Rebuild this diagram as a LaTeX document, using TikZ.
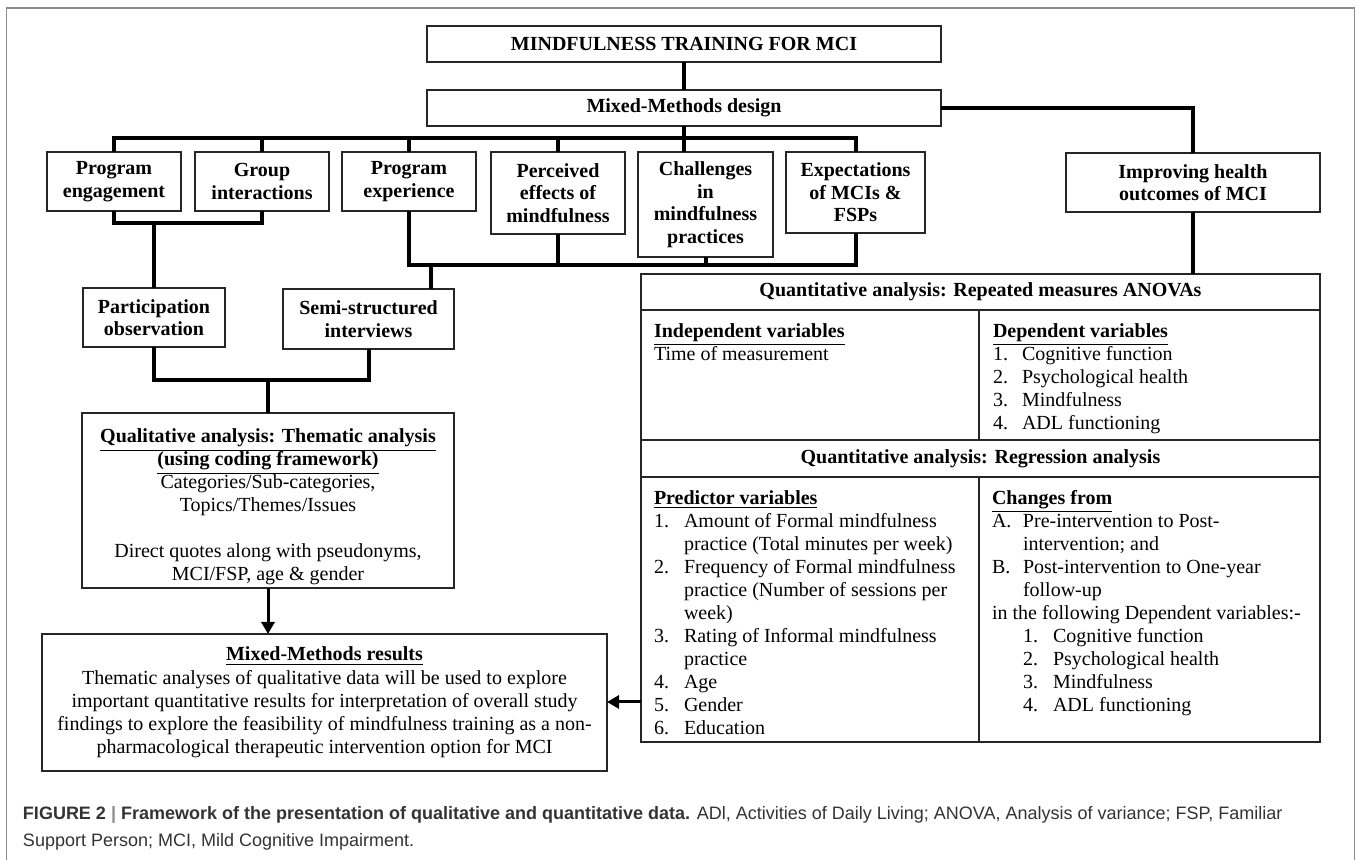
\documentclass[tikz,border=0pt]{standalone}
\usepackage{fontspec}
\setmainfont{Liberation Serif}
\newfontfamily\capfont{Liberation Sans}
\usetikzlibrary{arrows.meta,calc}
% \bx[options]{name}{x1}{y1}{x2}{y2}{text}
\newcommand\bx[7][]{\node[box,#1,minimum width={(#5-#3)*0.5pt},minimum height={(#6-#4)*0.5pt}] (#2) at ({(#3+#5)/2},{(#4+#6)/2}) {#7};}
\begin{document}
\begin{tikzpicture}[x=0.5pt,y=-0.5pt,
  every node/.style={inner sep=0pt,outer sep=0pt},
  box/.style={draw=black!85,line width=0.75pt,align=center,font=\fontsize{10}{11.25}\selectfont\bfseries},
  celltext/.style={anchor=north west,align=left,font=\fontsize{10}{11.5}\selectfont},
  conn/.style={line width=2pt,line join=miter},
  arr/.style={line width=1.5pt,-{Triangle[length=6pt,width=6.5pt]}},
  captxt/.style={anchor=base west,text=black!80,font=\capfont\fontsize{9}{13.5}\selectfont}]
\useasboundingbox (0,0) rectangle (1357,860);
% outer frame
\draw[draw=black!45,line width=0.75pt] (6.5,8) rectangle (1354.5,900);

% helper coordinates
\coordinate (barY) at (0,138);
\coordinate (y1) at (0,223);
\coordinate (busY) at (0,265);
\coordinate (y3) at (0,380);
\coordinate (ssX) at (431,0);
\coordinate (armY) at (0,702);

% top boxes
\bx{t1}{427}{26}{941}{62}{MINDFULNESS TRAINING FOR MCI}
\bx{mm}{427}{90}{941}{126}{Mixed-Methods design}

% row of themes
\bx{pe}{47}{152}{181}{211}{Program\\engagement}
\bx{gi}{195}{152}{329}{211}{Group\\interactions}
\bx{px}{342}{152}{476}{211}{Program\\experience}
\bx{pf}{491}{152}{625}{234}{Perceived\\effects of\\mindfulness}
\bx{ch}{638}{152}{773}{257}{Challenges\\in\\mindfulness\\practices}
\bx{ex}{786}{152}{925}{233}{Expectations\\of MCIs \&\\FSPs}
\bx{im}{1066}{153}{1320}{212}{Improving health\\outcomes of MCI}

% data collection
\bx{po}{83}{288}{225}{347}{Participation\\observation}
\bx{ss}{283}{289}{454}{349}{Semi-structured\\interviews}

% qualitative analysis
\bx[font=\fontsize{10}{11.5}\selectfont]{ql}{82}{413}{454}{588}
 {\rule{0pt}{13.5pt}\textbf{\underline{Qualitative analysis: Thematic analysis}}\\
  \textbf{\underline{(using coding framework)}}\\
  Categories/Sub-categories,\\
  Topics/Themes/Issues\\[11.5pt]
  Direct quotes along with pseudonyms,\\
  MCI/FSP, age \& gender}

% mixed-methods results
\bx[font=\fontsize{10}{11.6}\selectfont]{mx}{42}{634}{607}{771}
 {\textbf{\underline{Mixed-Methods results}}\\
  Thematic analyses of qualitative data will be used to explore\\
  important quantitative results for interpretation of overall study\\
  findings to explore the feasibility of mindfulness training as a non-\\
  pharmacological therapeutic intervention option for MCI}

% quantitative tables
\bx{h1}{641}{274}{1320}{310}{Quantitative analysis: Repeated measures ANOVAs}
\bx{c11}{641}{310}{979}{440}{}
\bx{c12}{979}{310}{1320}{440}{}
\bx{h2}{641}{440}{1320}{477}{Quantitative analysis: Regression analysis}
\bx{c21}{641}{477}{979}{742}{}
\bx{c22}{979}{477}{1320}{742}{}

\node[celltext] (t11) at (654,323.5)
 {\textbf{\underline{Independent variables}}\\Time of measurement};
\node[celltext] (t12) at (993,323.5)
 {\textbf{\underline{Dependent variables}}\\
  \makebox[14.5pt][l]{1.}Cognitive function\\
  \makebox[14.5pt][l]{2.}Psychological health\\
  \makebox[14.5pt][l]{3.}Mindfulness\\
  \makebox[14.5pt][l]{4.}ADL functioning};
\node[celltext] (t21) at (654,490.5)
 {\textbf{\underline{Predictor variables}}\\
  \makebox[15pt][l]{1.}Amount of Formal mindfulness\\
  \hspace*{15pt}practice (Total minutes per week)\\
  \makebox[15pt][l]{2.}Frequency of Formal mindfulness\\
  \hspace*{15pt}practice (Number of sessions per\\
  \hspace*{15pt}week)\\
  \makebox[15pt][l]{3.}Rating of Informal mindfulness\\
  \hspace*{15pt}practice\\
  \makebox[15pt][l]{4.}Age\\
  \makebox[15pt][l]{5.}Gender\\
  \makebox[15pt][l]{6.}Education};
\node[celltext] (t22) at (992,490.5)
 {\textbf{\underline{Changes from}}\\
  \makebox[15.5pt][l]{A.}Pre-intervention to Post-\\
  \hspace*{15.5pt}intervention; and\\
  \makebox[15.5pt][l]{B.}Post-intervention to One-year\\
  \hspace*{15.5pt}follow-up\\
  in the following Dependent variables:-\\
  \hspace*{15.5pt}\makebox[15pt][l]{1.}Cognitive function\\
  \hspace*{15.5pt}\makebox[15pt][l]{2.}Psychological health\\
  \hspace*{15.5pt}\makebox[15pt][l]{3.}Mindfulness\\
  \hspace*{15.5pt}\makebox[15pt][l]{4.}ADL functioning};

% connectors
\draw[conn] (t1.south) -- (mm.north);
\draw[conn] (mm.south) -- (mm.south |- ch.north);
\draw[conn] (pe.north) -- (pe.north |- barY) -- (ex.north |- barY) -- (ex.north);
\draw[conn] (gi.north) -- (gi.north |- barY);
\draw[conn] (px.north) -- (px.north |- barY);
\draw[conn] (pf.north) -- (pf.north |- barY);
\draw[conn] (mm.east) -| (im.north);
\draw[conn] (im.south) -- (im.south |- h1.north);

\draw[conn] (pe.south) -- (pe.south |- y1) -- (gi.south |- y1) -- (gi.south);
\draw[conn] (po.north) -- (po.north |- y1);

\draw[conn] (px.south) -- (px.south |- busY) -- (ex.south |- busY) -- (ex.south);
\draw[conn] (pf.south) -- (pf.south |- busY);
\draw[conn] (ch.south) -- (ch.south |- busY);
\draw[conn] (ss.north -| ssX) -- (busY -| ssX);

\draw[conn] (po.south) -- (po.south |- y3) -- (ss.south |- y3) -- (ss.south);
\draw[conn] (ql.north) -- (ql.north |- y3);

\draw[arr] (ql.south) -- (ql.south |- mx.north);
\draw[arr] (c21.west |- armY) -- (mx.east |- armY);

% caption
\node[captxt] (cap1) at (23,820)
 {{\bfseries FIGURE 2 {\color{black!45}|} Framework of the presentation of qualitative and quantitative data.} ADl, Activities of Daily Living; ANOVA, Analysis of variance; FSP, Familiar};
\node[captxt] (cap2) at (23,847) {Support Person; MCI, Mild Cognitive Impairment.};
\end{tikzpicture}
\end{document}
